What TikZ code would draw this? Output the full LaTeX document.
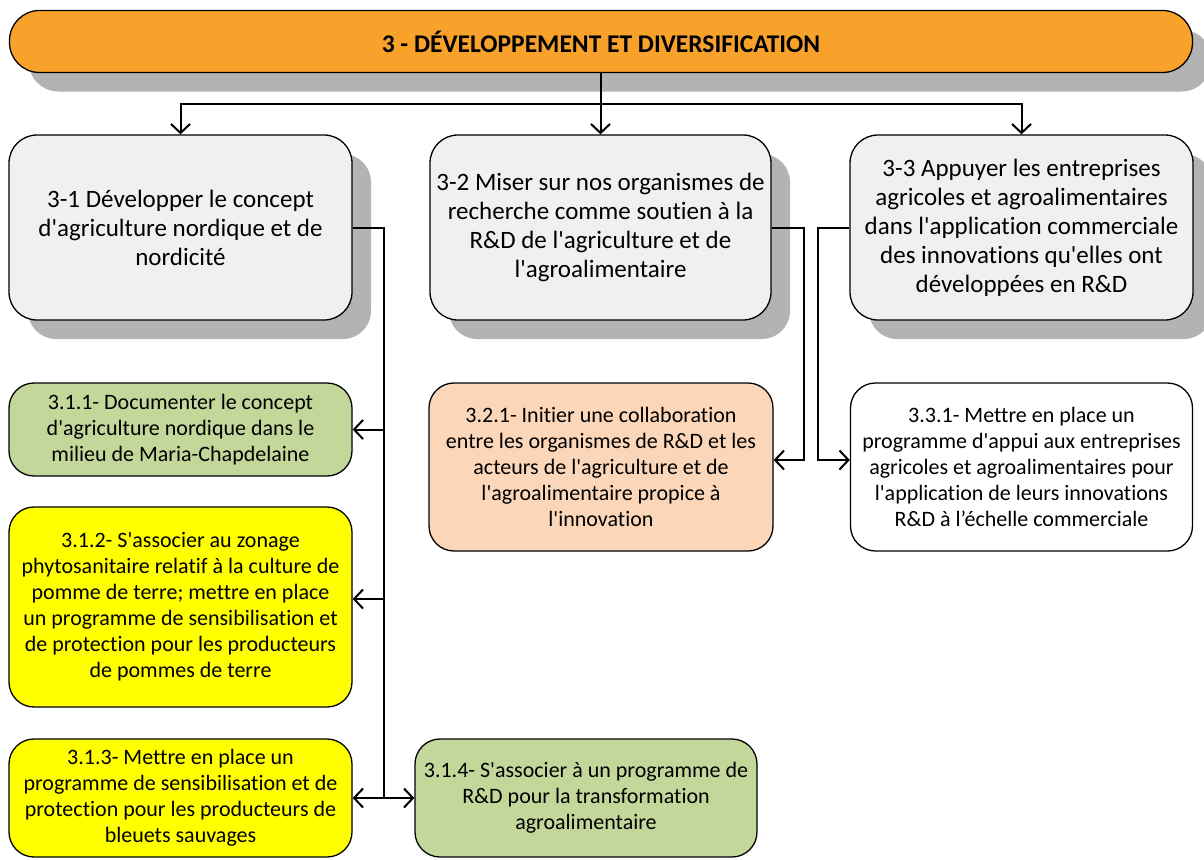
\documentclass[tikz,border=0pt]{standalone}
\usepackage{fontspec}
\newfontfamily\calfont{Carlito}[Ligatures=CommonOff]
\usetikzlibrary{arrows.meta,shadows}
\definecolor{orangebar}{HTML}{F8A22C}
\definecolor{graybox}{HTML}{F0F0F0}
\definecolor{shadowgray}{HTML}{B3B3B3}
\definecolor{greenbox}{HTML}{C4D79B}
\definecolor{peachbox}{HTML}{FBD6B8}
\definecolor{yellowbox}{HTML}{FFFF00}
\begin{document}
\begin{tikzpicture}[x=1pt,y=-1pt,
  box/.style={draw=black, line width=1.3pt, rounded corners=25pt, align=center, inner sep=0pt,
    font=\calfont\fontsize{22}{26}\selectfont, text=black},
  sh/.style={drop shadow={shadow xshift=19pt, shadow yshift=-19pt, fill=shadowgray, opacity=1, draw=none}},
  topbox/.style={box, sh, fill=graybox, minimum height=185pt, rounded corners=28pt,
    font=\calfont\fontsize{25}{29}\selectfont},
  conn/.style={draw=black, line width=2pt},
  arr/.style={conn, -{Straight Barb[length=9pt, width=19pt]}}
]
\useasboundingbox (0,0) rectangle (1204,859);
% title bar
\node[box, sh, fill=orangebar, minimum width=1183pt, minimum height=62pt, rounded corners=30pt,
  font=\calfont\bfseries\fontsize{25.5}{28}\selectfont] (bar) at (601,41.5) {3 - DÉVELOPPEMENT ET DIVERSIFICATION};
% level 1
\node[topbox, minimum width=343pt] (b1) at (180.5,227.5) {3-1 Développer le concept\\d'agriculture nordique et de\\nordicité};
\node[topbox, minimum width=341pt] (b2) at (600.5,227.5) {3-2 Miser sur nos organismes de\\recherche comme soutien à la\\R\&D de l'agriculture et de\\l'agroalimentaire};
\node[topbox, minimum width=343pt] (b3) at (1021.5,227.5) {3-3 Appuyer les entreprises\\agricoles et agroalimentaires\\dans l'application commerciale\\des innovations qu'elles ont\\développées en R\&D};
% level 2
\node[box, fill=greenbox, minimum width=343pt, minimum height=93pt] (c311) at (180.5,429.5) {3.1.1- Documenter le concept\\d'agriculture nordique dans le\\milieu de Maria-Chapdelaine};
\node[box, fill=yellowbox, minimum width=343pt, minimum height=200pt] (c312) at (180.5,607) {3.1.2- S'associer au zonage\\phytosanitaire relatif à la culture de\\pomme de terre; mettre en place\\un programme de sensibilisation et\\de protection pour les producteurs\\de pommes de terre};
\node[box, fill=yellowbox, minimum width=343pt, minimum height=118pt] (c313) at (180.5,798) {3.1.3- Mettre en place un\\programme de sensibilisation et de\\protection pour les producteurs de\\bleuets sauvages};
\node[box, fill=greenbox, minimum width=342pt, minimum height=118pt] (c314) at (586,798) {3.1.4- S'associer à un programme de\\R\&D pour la transformation\\agroalimentaire};
\node[box, fill=peachbox, minimum width=344pt, minimum height=168pt] (c321) at (601,467) {3.2.1- Initier une collaboration\\entre les organismes de R\&D et les\\acteurs de l'agriculture et de\\l'agroalimentaire propice à\\l'innovation};
\node[box, fill=white, minimum width=342pt, minimum height=168pt] (c331) at (1021.5,467) {3.3.1- Mettre en place un\\programme d'appui aux entreprises\\agricoles et agroalimentaires pour\\l'application de leurs innovations\\R\&D à l’échelle commerciale};
% connectors from title
\path (bar.south) ++(0,31) coordinate (j);
\draw[conn] (bar.south) -- (j);
\draw[arr] (j) -| (b1.north);
\draw[arr] (j) -| (b2.north);
\draw[arr] (j) -| (b3.north);
% 3-1 trunk
\path (b1.east) ++(31,0) coordinate (t1);
\draw[conn] (b1.east) -- (t1) -- (t1 |- c313.east);
\draw[arr] (t1 |- c311.east) -- (c311.east);
\draw[arr] (t1 |- 0,599) -- (c312.east |- 0,599);
\draw[arr] (t1 |- c313.east) -- (c313.east);
\draw[arr] (t1 |- c313.east) -- (c314.west |- c313.east);
% 3-2
\path (b2.east) ++(32,0) coordinate (t2);
\draw[arr] (b2.east) -- (t2) |- (c321.east |- 0,460);
% 3-3
\path (b3.west) ++(-31,0) coordinate (t3);
\draw[arr] (b3.west) -- (t3) |- (c331.west |- 0,460);
\end{tikzpicture}
\end{document}
